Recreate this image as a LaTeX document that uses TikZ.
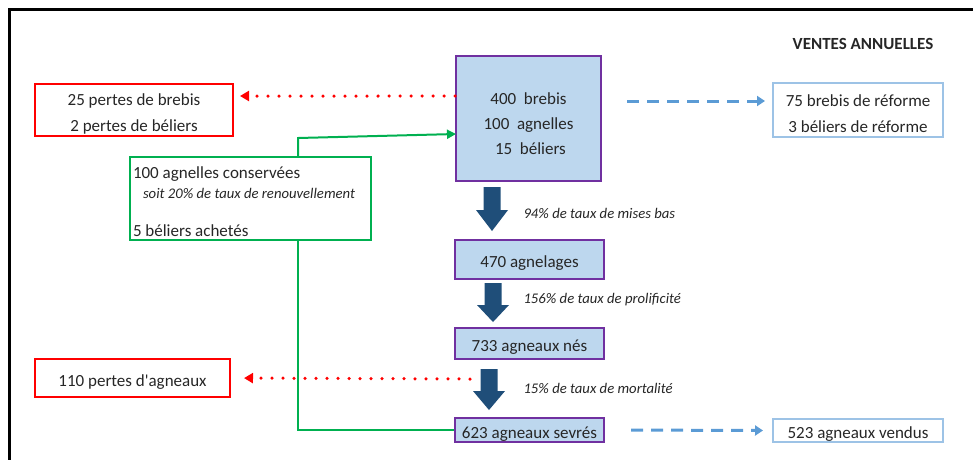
\documentclass[tikz,border=0pt]{standalone}
\usepackage{fontspec}
\setmainfont{Carlito}
\usetikzlibrary{arrows.meta}
\definecolor{lilas}{HTML}{7030A0}
\definecolor{ciel}{HTML}{BDD7EE}
\definecolor{pale}{HTML}{9DC3E6}
\definecolor{bleu}{HTML}{5B9BD5}
\definecolor{marine}{HTML}{1F4E79}
\definecolor{vert}{HTML}{00B050}
\definecolor{texte}{HTML}{262626}
% hauteur de la premiere ligne, pour descendre le texte dans les cadres
\newcommand\calage[1][19pt]{\rule{0pt}{#1}}
\tikzset{
  box/.style={draw, line width=2pt, inner sep=0pt, align=center, text=texte,
    font=\fontsize{17}{26}\selectfont},
  stock/.style={box, draw=lilas, fill=ciel},
  perte/.style={box, draw=red},
  vente/.style={box, draw=pale},
  taux/.style={anchor=west, text=texte, font=\fontsize{14.7}{17}\selectfont\itshape},
  pointille/.style={red, line width=3.5pt, line cap=round, dash pattern=on 0pt off 11pt,
    -{Triangle[length=9pt,width=10pt,line cap=butt]}},
  tirets/.style={bleu, line width=3pt, dash pattern=on 12pt off 8pt,
    -{Triangle[length=8pt,width=10pt]}},
}
\begin{document}
\begin{tikzpicture}[x=1pt,y=-1pt]
    \useasboundingbox (0,0) rectangle (973,459);
    \draw[line width=3pt] (9,470) -- (9,9) -- (990,9);
    \node[font=\fontsize{17}{20}\selectfont\bfseries, text=texte] (titre) at (863,44) {VENTES ANNUELLES};
    % effectif de base
    \node[stock, minimum width=145, minimum height=125, font=\fontsize{17}{25}\selectfont] (brebis) at (528.5,118.5)
      {\calage[22pt]400\ \ brebis\\100\ \ agnelles\\\ 15\ \ béliers};
    \node[perte, minimum width=198, minimum height=52] (pbrebis) at (134,110)
      {\calage 25 pertes de brebis\\2 pertes de béliers};
    \node[vente, minimum width=170, minimum height=54] (reforme) at (858,110)
      {\calage 75 brebis de réforme\\3 béliers de réforme};
    \node[box, draw=vert, align=flush left, text width=235, minimum width=241, minimum height=83,
      font=\fontsize{17}{20}\selectfont] (renouv) at (250.5,198.5)
      {\calage 100 agnelles conservées\\
       \hspace*{10pt}{\fontsize{14.7}{20}\selectfont\itshape soit 20\% de taux de renouvellement}\\[18pt]
       5 béliers achetés};
    % chaine de production
    \node[stock, minimum width=149, minimum height=39] (agnelages) at (529.5,259.5) {\calage 470 agnelages};
    \node[stock, minimum width=149, minimum height=31] (nes) at (529.5,343.5) {\calage 733 agneaux nés};
    \node[stock, minimum width=149, minimum height=24] (sevres) at (529.5,430) {\calage 623 agneaux sevrés};
    \node[perte, minimum width=195, minimum height=38] (pagneaux) at (132.5,378) {\calage 110 pertes d\textquotesingle agneaux};
    \node[vente, minimum width=170, minimum height=23] (vendus) at (858,430.5) {\calage 523 agneaux vendus};
    \foreach \t/\h/\b/\c in {187/210/231/492, 283/305/322/493, 369/391/410/489}{
    \fill[marine] (\c-8.5,\t) -- (\c+8.5,\t) -- (\c+8.5,\h) -- (\c+16,\h) -- (\c,\b)
      -- (\c-16,\h) -- (\c-8.5,\h) -- cycle;}
    \node[taux] (misesbas) at (520,213) {94\% de taux de mises bas};
    \node[taux] (prolif) at (520,300) {156\% de taux de prolificité};
    \node[taux] (mortal) at (520,388) {15\% de taux de mortalité};
    % flux
    \coordinate (rouge1) at (240,96);
    \coordinate (bleu1) at (627,101);
    \coordinate (fin1) at (765,101);
    \coordinate (coude) at (298,138);
    \coordinate (entree) at (456,134);
    \coordinate (mort) at (470,379);
    \draw[pointille] (brebis.west |- rouge1) -- (rouge1);
    \draw[tirets] (bleu1) -- (fin1);
    \draw[vert, line width=2pt, -{Triangle[length=9pt,width=9pt]}] (renouv.north -| coude) -- (coude) -- (entree);
    \draw[vert, line width=2pt] (renouv.south -| coude) |- (sevres.west);
    \draw[pointille, shorten >=13pt] (mort) -- (pagneaux.east);
    \draw[tirets, shorten <=26pt, shorten >=9pt] (sevres.east) -- (vendus.west);
\end{tikzpicture}
\end{document}
